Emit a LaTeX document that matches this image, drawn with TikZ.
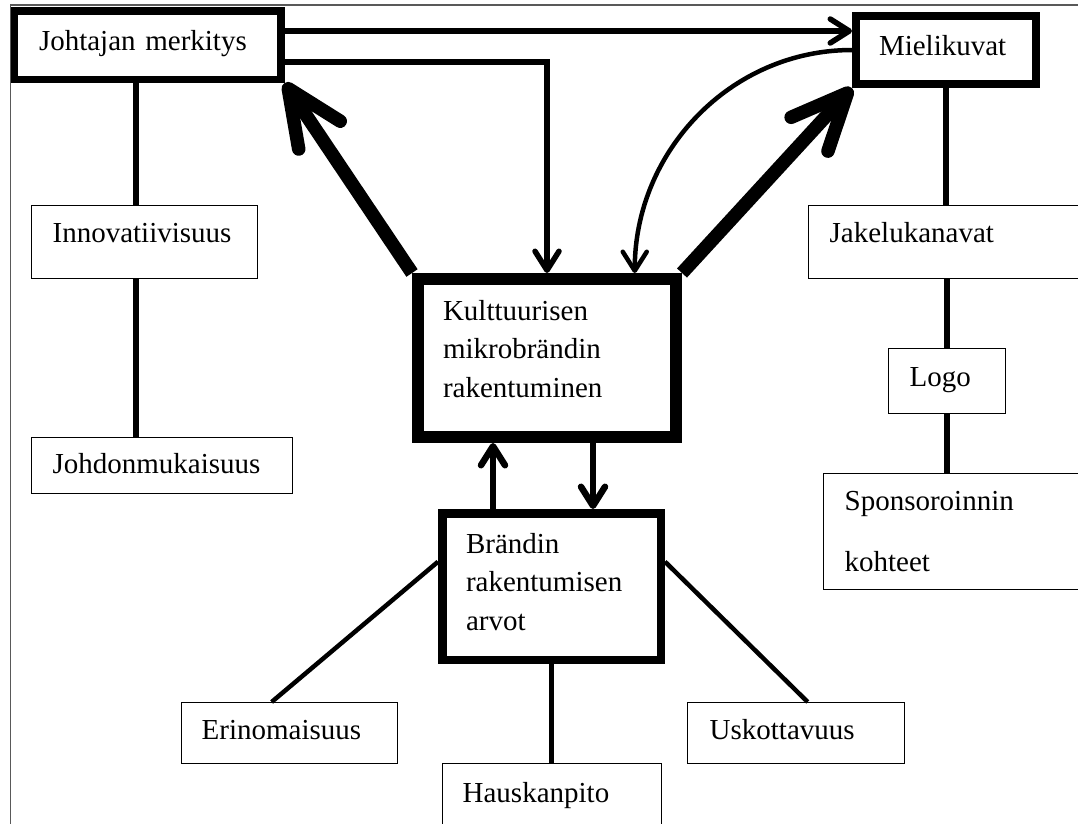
\documentclass[tikz,border=0pt]{standalone}
\usepackage{fontspec}
\setmainfont{Liberation Serif}
\usetikzlibrary{arrows.meta,calc}
\newcommand\diagfont{\fontsize{29}{38.7}\selectfont}

\begin{document}
\begin{tikzpicture}[x=1pt,y=-1pt,
  plain/.style={draw, line width=1.3pt, anchor=north west, inner ysep=0pt,
    align=left, font=\diagfont},
  heavy/.style={plain, line width=#1},
  tie/.style={line width=#1},
  arr/.style={line width=#1, -{Straight Barb[length=19pt,width=24pt,round]}},
  fat/.style={line width=13.5pt, -{Straight Barb[length=56pt,width=50pt,round]}},
]
\useasboundingbox (0,0) rectangle (1078,823);
\fill[white] (0,0) rectangle (1078,823);
\clip (0,0) rectangle (1078,823);

% outer frame (only its left and top sides fall inside the page)
\draw[line width=1.4pt, black!65] (10.5,840) -- (10.5,5) -- (1090,5);

% helper positions for off-centre connectors
\coordinate (spineL) at (136,0);
\coordinate (rowA) at (0,31);
\coordinate (rowB) at (0,62);
\coordinate (colU) at (493,0);
\coordinate (colD) at (593,0);

% main boxes
\node[heavy=7.5pt, inner xsep=24.75pt, text width=217pt, text height=39.25pt, text depth=29.25pt]
  (jm) at (10.5,7) {Johtajan merkitys};
\node[heavy=8pt, inner xsep=23pt, text width=134pt, text height=39pt, text depth=29pt]
  (mk) at (852,12) {Mielikuvat};
\node[heavy=12pt, inner xsep=25pt, text width=208pt, text height=41pt, text depth=117pt]
  (kult) at (412,273) {Kulttuurisen\\ mikrobrändin\\ rakentuminen};
\node[heavy=8.5pt, inner xsep=23.75pt, text width=171pt, text height=39.75pt, text depth=106.75pt]
  (br) at (438,509) {Brändin\\ rakentumisen\\ arvot};

% side boxes
\node[plain, inner xsep=21pt, text width=184pt, text height=37pt, text depth=36pt]
  (inn) at (31,205) {Innovatiivisuus};
\node[plain, inner xsep=21pt, text width=219pt, text height=36pt, text depth=20pt]
  (jd) at (31,437) {Johdonmukaisuus};
\node[plain, inner xsep=21pt, text width=250pt, text height=37pt, text depth=36pt]
  (jk) at (808,205) {Jakelukanavat};
\node[plain, inner xsep=21pt, text width=75pt, text height=38pt, text depth=27pt]
  (logo) at (888,348) {Logo};
\node[plain, inner xsep=21pt, text width=235pt, text height=37pt, text depth=79pt]
  (sp) at (823,473) {Sponsoroinnin\\[22pt]kohteet};
\node[plain, inner xsep=20pt, text width=176pt, text height=37pt, text depth=24pt]
  (er) at (181,702) {Erinomaisuus};
\node[plain, inner xsep=20pt, text width=179pt, text height=39pt, text depth=50pt]
  (ha) at (442,763) {Hauskanpito};
\node[plain, inner xsep=22pt, text width=173pt, text height=37pt, text depth=24pt]
  (us) at (687,702) {Uskottavuus};

% plain links
\draw[tie=6pt] (jm.south -| spineL) -- (inn.north -| spineL);
\draw[tie=6pt] (inn.south -| spineL) -- (jd.north -| spineL);
\draw[tie=6pt] (mk.south) -- (mk.south |- jk.north);
\draw[tie=6pt] (jk.south -| logo.north) -- (logo.north);
\draw[tie=6pt] (logo.south) -- (logo.south |- sp.north);
\draw[tie=4.5pt] ($(br.north west)!0.34!(br.south west)$) -- ($(er.north west)!0.417!(er.north east)$);
\draw[tie=4.5pt] ($(br.north east)!0.34!(br.south east)$) -- ($(us.north west)!0.553!(us.north east)$);
\draw[tie=4.5pt] (br.south) -- (br.south |- ha.north);

% arrows
\draw[arr=5.5pt] (jm.east |- rowA) -- (mk.west |- rowA);
\draw[arr=5.5pt] (jm.east |- rowB) -| (kult.north);
\draw[arr=4.5pt] (mk.west) to[out=180,in=90] ($(kult.north west)!0.825!(kult.north east)$);
\draw[arr=6.5pt] (br.north -| colU) -- (kult.south -| colU);
\draw[arr=6.5pt] (kult.south -| colD) -- (br.north -| colD);
\draw[fat] (kult.north west) -- (jm.south east);
\draw[fat] (kult.north east) -- (mk.south west);
\end{tikzpicture}
\end{document}
